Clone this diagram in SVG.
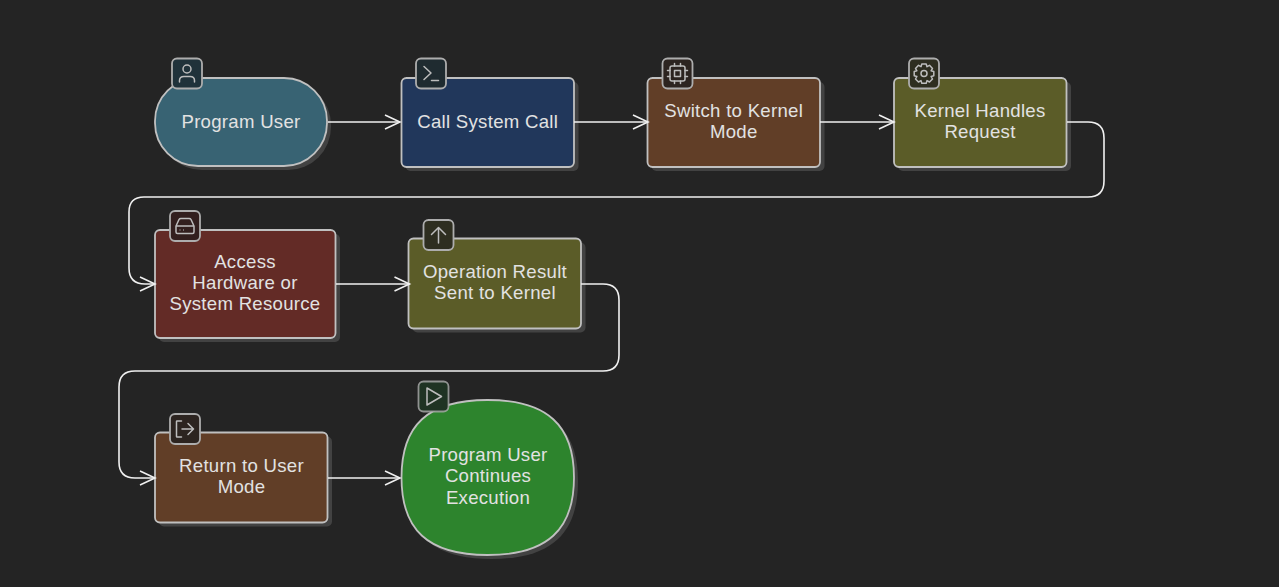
<svg xmlns="http://www.w3.org/2000/svg" width="1279" height="587" viewBox="0 0 1279 587">
<style>
.shape{stroke:#c0c0c0;stroke-width:1.8}
.shadow{fill:#424242}
.badge{stroke:#adadad;stroke-width:1.8}
.icon{fill:none;stroke:#bdbdbd;stroke-width:1.5;stroke-linecap:round;stroke-linejoin:round}
.lbl{font-family:"Liberation Sans",Arial,sans-serif;font-size:18.6px;letter-spacing:.28px;fill:#e2e2e2;text-anchor:middle}
.edge{fill:none;stroke:#f0f0f0;stroke-width:1.6}
</style>
<defs>
<marker id="arrow" markerUnits="userSpaceOnUse" markerWidth="20" markerHeight="20" refX="16" refY="10" orient="auto"><path d="M1 3 L16 10 L1 17" fill="none" stroke="#f0f0f0" stroke-width="1.6"/></marker>
</defs>
<rect width="1279" height="587" fill="#242424"/>
<g id="n1">
<rect class="shadow" x="159" y="82" width="172" height="88" rx="43"/>
<rect class="shape" x="155" y="78" width="172" height="88" rx="43" fill="#386373"/>
<rect class="badge" x="172" y="58.500" width="30" height="30" rx="5" fill="#20323a"/>
<circle class="icon" cx="187" cy="69" r="4"/><path class="icon" d="M179.500 82V80.500Q179.500 76.500 184 76.500H190Q194.500 76.500 194.500 80.500V82"/>
<text class="lbl" x="241" y="127.500">Program User</text>
</g>
<g id="n2">
<rect class="shadow" x="405.500" y="82" width="173" height="89" rx="5"/>
<rect class="shape" x="401.500" y="78" width="172.500" height="89" rx="5" fill="#21375b"/>
<rect class="badge" x="416" y="58.500" width="30" height="30" rx="5" fill="#1f2b30"/>
<path class="icon" d="M424 66.500L431 73L424 79.500M431.500 80.500H438.500"/>
<text class="lbl" x="487.700" y="127.500">Call System Call</text>
</g>
<g id="n3">
<rect class="shadow" x="651.500" y="82" width="173" height="89" rx="5"/>
<rect class="shape" x="647.500" y="78" width="172.500" height="89" rx="5" fill="#613e27"/>
<rect class="badge" x="662.500" y="58.500" width="30" height="30" rx="5" fill="#2c2420"/>
<rect class="icon" x="670" y="66" width="15" height="15" rx="2"/><rect class="icon" x="674.500" y="70.500" width="6" height="6"/>
<path class="icon" d="M674.500 63.500V66M680.500 63.500V66M674.500 81V83.500M680.500 81V83.500M667.500 70.500H670M667.500 76.500H670M685 70.500H687.500M685 76.500H687.500"/>
<text class="lbl" x="733.700" y="117">Switch to Kernel</text>
<text class="lbl" x="733.700" y="138">Mode</text>
</g>
<g id="n4">
<rect class="shadow" x="898" y="82" width="173" height="89" rx="5"/>
<rect class="shape" x="894" y="78" width="172.500" height="89" rx="5" fill="#5b5c28"/>
<rect class="badge" x="909" y="58.500" width="30" height="30" rx="5" fill="#2e2e20"/>
<circle class="icon" cx="924" cy="73.500" r="3"/>
<path class="icon" d="M921.800 64H926.200L927 66.700L929.500 65.300L932.500 68.400L931.100 70.800L933.800 71.500V75.800L931.100 76.500L932.500 79L929.500 82L927 80.600L926.200 83.300H921.800L921 80.600L918.500 82L915.500 79L916.900 76.500L914.200 75.800V71.500L916.900 70.800L915.500 68.400L918.500 65.300L921 66.700Z"/>
<text class="lbl" x="980" y="117">Kernel Handles</text>
<text class="lbl" x="980" y="138">Request</text>
</g>
<g id="n5">
<rect class="shadow" x="159" y="234" width="181" height="108" rx="5"/>
<rect class="shape" x="155" y="230" width="180.500" height="108" rx="5" fill="#632b26"/>
<rect class="badge" x="170" y="211" width="30" height="30" rx="5" fill="#321f1e"/>
<path class="icon" d="M176 226L179 219.500Q179.500 218.500 181 218.500H189Q190.500 218.500 191 219.500L194 226V232Q194 233.500 192.500 233.500H177.500Q176 233.500 176 232ZM176 226H194"/>
<path d="M179.500 230H180.500M183 230H184" stroke="#bdbdbd" stroke-width="1"/>
<text class="lbl" x="245" y="267.500">Access</text>
<text class="lbl" x="245" y="288.500">Hardware or</text>
<text class="lbl" x="245" y="310">System Resource</text>
</g>
<g id="n6">
<rect class="shadow" x="412.500" y="242.500" width="173" height="90" rx="5"/>
<rect class="shape" x="408.500" y="238.500" width="172.500" height="90" rx="5" fill="#5b5c28"/>
<rect class="badge" x="423.500" y="220" width="30" height="30" rx="5" fill="#2e2e20"/>
<path class="icon" d="M438.500 243V227.500M431.500 234.500L438.500 227.500L445.500 234.500"/>
<text class="lbl" x="495" y="278">Operation Result</text>
<text class="lbl" x="495" y="299">Sent to Kernel</text>
</g>
<g id="n7">
<rect class="shadow" x="159" y="436.500" width="173" height="90" rx="5"/>
<rect class="shape" x="155" y="432.500" width="172.500" height="90" rx="5" fill="#613e27"/>
<rect class="badge" x="170" y="414" width="30" height="30" rx="5" fill="#2c2420"/>
<path class="icon" d="M181.500 421H177Q176.500 421 176.500 421.500V436.500Q176.500 437 177 437H181.500M182 429H193.500M188 423.500L193.500 429L188 434.500"/>
<text class="lbl" x="241.500" y="472">Return to User</text>
<text class="lbl" x="241.500" y="493">Mode</text>
</g>
<g id="n8">
<path class="shadow" d="M491.500 404C551.500 404 578 429.500 578 481.500C578 533.500 551.500 559 491.500 559C431.500 559 405.500 533.500 405.500 481.500C405.500 429.500 431.500 404 491.500 404Z"/>
<path class="shape" d="M487.500 400C547.500 400 574 425.500 574 477.500C574 529.500 547.500 555 487.500 555C427.500 555 401.500 529.500 401.500 477.500C401.500 425.500 427.500 400 487.500 400Z" fill="#2d842d"/>
<rect class="badge" x="418.500" y="381.500" width="30" height="30" rx="5" fill="#1f3323" stroke-opacity=".8"/>
<path class="icon" d="M427 388L441.500 396.500L427 405Z"/>
<text class="lbl" x="488" y="461">Program User</text>
<text class="lbl" x="488" y="482">Continues</text>
<text class="lbl" x="488" y="503.500">Execution</text>
</g>
<g id="connectors">
<path class="edge" marker-end="url(#arrow)" d="M328 122H400"/>
<path class="edge" marker-end="url(#arrow)" d="M574 122H648"/>
<path class="edge" marker-end="url(#arrow)" d="M820 122H894"/>
<path class="edge" marker-end="url(#arrow)" d="M1067 122H1088Q1104 122 1104 138V181Q1104 197 1088 197H144Q129 197 129 212V268Q129 284 145 284H155"/>
<path class="edge" marker-end="url(#arrow)" d="M336 284H409.500"/>
<path class="edge" marker-end="url(#arrow)" d="M581 284H603Q619 284 619 300V355Q619 371 603 371H135Q119 371 119 387V462Q119 478 135 478H155"/>
<path class="edge" marker-end="url(#arrow)" d="M328 478H400"/>
</g>
</svg>
